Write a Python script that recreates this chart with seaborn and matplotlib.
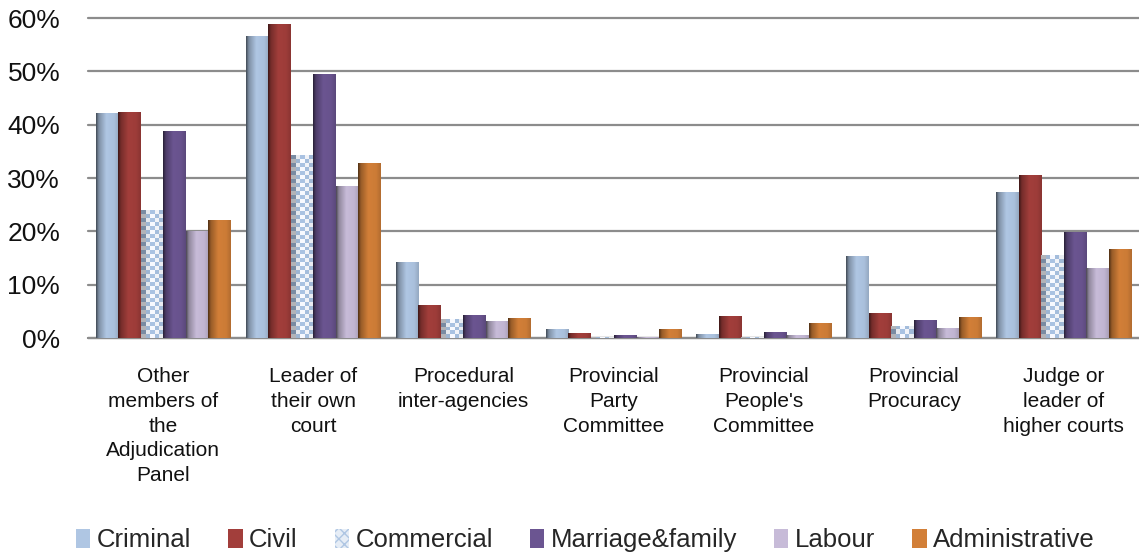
import numpy as np
import pandas as pd
import matplotlib
matplotlib.use("Agg")
import matplotlib.pyplot as plt
import seaborn as sns
from matplotlib.colors import to_rgb
from matplotlib.patches import Patch
from matplotlib.ticker import PercentFormatter

categories = [
    "Other\nmembers of\nthe\nAdjudication\nPanel",
    "Leader of\ntheir own\ncourt",
    "Procedural\ninter-agencies",
    "Provincial\nParty\nCommittee",
    "Provincial\nPeople's\nCommittee",
    "Provincial\nProcuracy",
    "Judge or\nleader of\nhigher courts",
]
series = ["Criminal", "Civil", "Commercial", "Marriage&family", "Labour", "Administrative"]
criminal = [42.2, 56.7, 14.3, 1.7, 0.7, 15.3, 27.3]
civil = [42.4, 58.9, 6.2, 1.0, 4.1, 4.6, 30.5]
commercial = [24.0, 34.3, 3.5, 0.1, 0.1, 2.3, 15.5]
marriage = [38.8, 49.5, 4.4, 0.5, 1.2, 3.4, 19.9]
labour = [20.1, 28.5, 3.1, 0.1, 0.5, 1.9, 13.2]
administrative = [22.1, 32.8, 3.8, 1.7, 2.9, 4.0, 16.7]
colors = ["#AFC6E3", "#A23E3B", "#A9C2E2", "#6B5591", "#C7BBD8", "#D27F38"]

values = [criminal, civil, commercial, marriage, labour, administrative]
rows = []
for s, vals in zip(series, values):
    for c, v in zip(categories, vals):
        rows.append({"category": c, "series": s, "value": v / 100.0})
df = pd.DataFrame(rows)

sns.set_theme(style="white")
plt.rcParams["font.family"] = ["Liberation Sans", "DejaVu Sans"]

fig = plt.figure(figsize=(11.39, 5.56), dpi=100)
ax = fig.add_axes([88 / 1139, 1 - 338 / 556, 1 - 88 / 1139, (338 - 18) / 556])

sns.barplot(data=df, x="category", y="value", hue="series", hue_order=series,
            palette=colors, width=0.9, gap=0, ax=ax, legend=False, errorbar=None,
            saturation=1, zorder=3)

ax.set_ylim(0, 0.6)
xl = ax.get_xlim()

profile_t = [0, 0.12, 0.45, 0.8, 1.0]
profile_f = [0.38, 0.72, 1.0, 0.97, 0.85]


def shaded_rgb(color, n):
    t = np.linspace(0, 1, n)
    f = np.interp(t, profile_t, profile_f)
    base = np.array(to_rgb(color))
    return np.clip(base[None, :] * f[:, None], 0, 1)


px_per_unit = (338 - 18) / 0.6
for si, cont in enumerate(ax.containers):
    for bar in cont:
        x0, y0 = bar.get_x(), bar.get_y()
        w, h = bar.get_width(), bar.get_height()
        if h <= 0:
            continue
        if series[si] == "Commercial":
            nrow = max(1, int(round(h * px_per_unit / 4.0)))
            ncol = 5
            chk = (np.add.outer(np.arange(nrow), np.arange(ncol)) % 2).astype(float)
            base = np.array(to_rgb(colors[si]))
            white = np.array([0.97, 0.98, 1.0])
            img = chk[:, :, None] * base[None, None, :] + (1 - chk[:, :, None]) * white[None, None, :]
            t = np.linspace(0, 1, ncol)
            f = np.interp(t, [0, 0.2, 0.5, 1], [0.72, 0.92, 1.0, 0.95])
            img = np.clip(img * f[None, :, None], 0, 1)
            im = ax.imshow(img, extent=[x0, x0 + w, y0, y0 + h], aspect="auto",
                           interpolation="nearest", zorder=4, origin="lower")
        else:
            img = shaded_rgb(colors[si], 64)[None, :, :]
            im = ax.imshow(img, extent=[x0, x0 + w, y0, y0 + h], aspect="auto",
                           interpolation="bilinear", zorder=4)
        im.set_clip_path(bar)
        bar.set_edgecolor("none")

ax.set_xlim(xl)
ax.set_ylim(0, 0.6)
ax.set_aspect("auto")

ax.yaxis.set_major_locator(plt.MultipleLocator(0.1))
ax.yaxis.set_major_formatter(PercentFormatter(1.0, decimals=0))
ax.grid(axis="y", color="#8C8C8C", linewidth=1.6, zorder=1)
ax.grid(axis="x", visible=False)
for side in ["left", "right", "top", "bottom"]:
    ax.spines[side].set_visible(False)
ax.axhline(0, color="#8C8C8C", linewidth=1.6, zorder=2, clip_on=False)
ax.set_xlabel("")
ax.set_ylabel("")
ax.tick_params(axis="y", length=0, pad=20, labelsize=19, labelcolor="#111111")
ax.tick_params(axis="x", length=0, pad=21, labelsize=15, labelcolor="#111111")
for lab in ax.get_xticklabels():
    lab.set_linespacing(1.38)
for g in ax.get_ygridlines():
    g.set_clip_on(False)

handles = []
for s, c in zip(series, colors):
    if s == "Commercial":
        handles.append(Patch(facecolor="#E6EDF6", edgecolor="#AFC6E3", hatch="xxx", linewidth=0))
    else:
        handles.append(Patch(facecolor=c, edgecolor="none"))
fig.legend(handles, series, loc="center", bbox_to_anchor=(0.514, 0.028), ncol=6,
           frameon=False, fontsize=18.5, handlelength=0.55, handleheight=0.75,
           handletextpad=0.25, columnspacing=1.45, borderaxespad=0)

fig.savefig("out.png", dpi=100)
